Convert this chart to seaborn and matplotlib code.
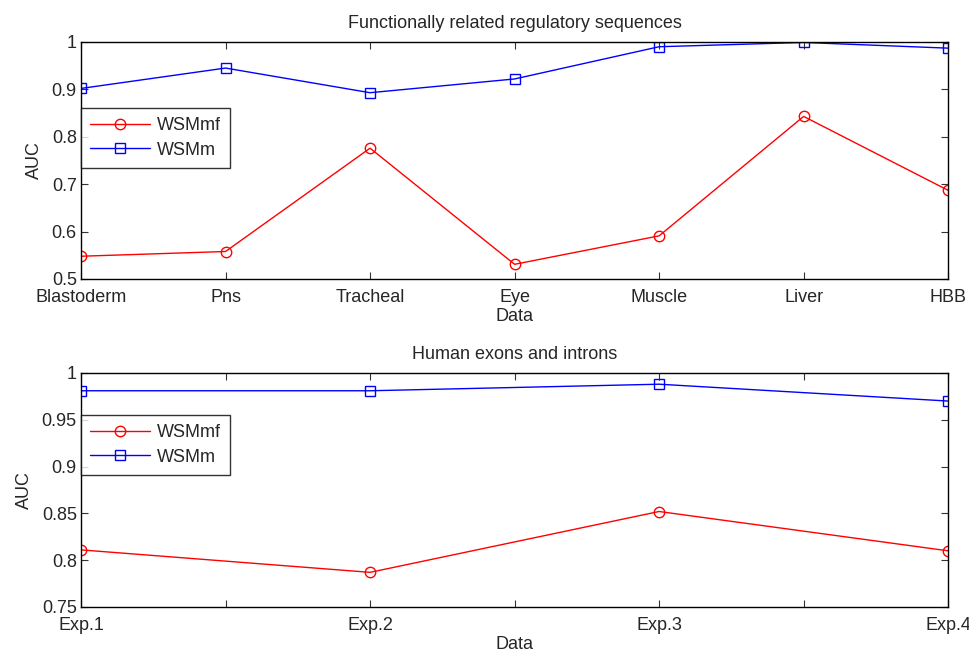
import matplotlib
matplotlib.use("Agg")
import matplotlib.pyplot as plt
import seaborn as sns
import pandas as pd

cats_top = ["Blastoderm", "Pns", "Tracheal", "Eye", "Muscle", "Liver", "HBB"]
wsmmf_top = [0.548, 0.558, 0.776, 0.531, 0.591, 0.843, 0.687]
wsmm_top = [0.902, 0.945, 0.893, 0.922, 0.990, 0.999, 0.987]

cats_bot = ["Exp.1", "Exp.2", "Exp.3", "Exp.4"]
wsmmf_bot = [0.811, 0.787, 0.852, 0.810]
wsmm_bot = [0.981, 0.981, 0.988, 0.970]

sns.set_theme(style="white")
plt.rcParams['font.family'] = ['Liberation Sans', 'DejaVu Sans']

FS = 13

fig = plt.figure(figsize=(9.7, 6.54), dpi=100)
ax1 = fig.add_axes([0.0835, 0.5734, 0.894, 0.3624])
ax2 = fig.add_axes([0.0835, 0.0719, 0.894, 0.3578])

def draw(ax, cats, mf, m, yticks, ylim, title, legy, half_ticks):
    x = list(range(len(cats)))
    df = pd.DataFrame({"x": x * 2, "AUC": mf + m,
                       "series": ["WSMmf"] * len(cats) + ["WSMm"] * len(cats)})
    sns.lineplot(data=df[df.series == "WSMmf"], x="x", y="AUC", ax=ax, color="red",
                 marker="o", markersize=7.5, markerfacecolor="none", markeredgecolor="red",
                 markeredgewidth=1, linewidth=1, label="WSMmf")
    sns.lineplot(data=df[df.series == "WSMm"], x="x", y="AUC", ax=ax, color="blue",
                 marker="s", markersize=6.5, markerfacecolor="none", markeredgecolor="blue",
                 markeredgewidth=1, linewidth=1, label="WSMm")
    ax.set_xlim(0, len(cats) - 1)
    ax.set_ylim(*ylim)
    if half_ticks:
        ticks = [i * 0.5 for i in range(2 * (len(cats) - 1) + 1)]
        labels = [cats[int(t)] if t == int(t) else "" for t in ticks]
    else:
        ticks = x
        labels = cats
    ax.set_xticks(ticks)
    ax.set_xticklabels(labels, fontsize=FS)
    ax.set_yticks(yticks)
    ax.set_yticklabels([("%g" % t) for t in yticks], fontsize=FS)
    ax.tick_params(direction="in", length=5, top=True, right=True, bottom=True, left=True,
                   width=0.8, color="#333333", pad=3)
    ax.tick_params(axis="x", pad=7)
    for s in ax.spines.values():
        s.set_color("black")
        s.set_linewidth(1.0)
    ax.set_xlabel("Data", fontsize=FS, labelpad=2)
    ax.set_ylabel("AUC", fontsize=FS, labelpad=6)
    ax.set_title(title, fontsize=FS, pad=10)
    leg = ax.legend(loc="upper left", bbox_to_anchor=(0.0, legy), frameon=True,
                    fancybox=False, edgecolor="black", fontsize=FS, borderaxespad=0,
                    handlelength=3.3, handletextpad=0.4, borderpad=0.5, labelspacing=0.42)
    leg.get_frame().set_linewidth(1.0)
    return leg

draw(ax1, cats_top, wsmmf_top, wsmm_top, [0.5, 0.6, 0.7, 0.8, 0.9, 1.0], (0.5, 1.0),
     "Functionally related regulatory sequences", 0.7215, False)
draw(ax2, cats_bot, wsmmf_bot, wsmm_bot, [0.75, 0.8, 0.85, 0.9, 0.95, 1.0], (0.75, 1.0),
     "Human exons and introns", 0.8205, True)

fig.savefig("out.png", dpi=100, facecolor="white")
